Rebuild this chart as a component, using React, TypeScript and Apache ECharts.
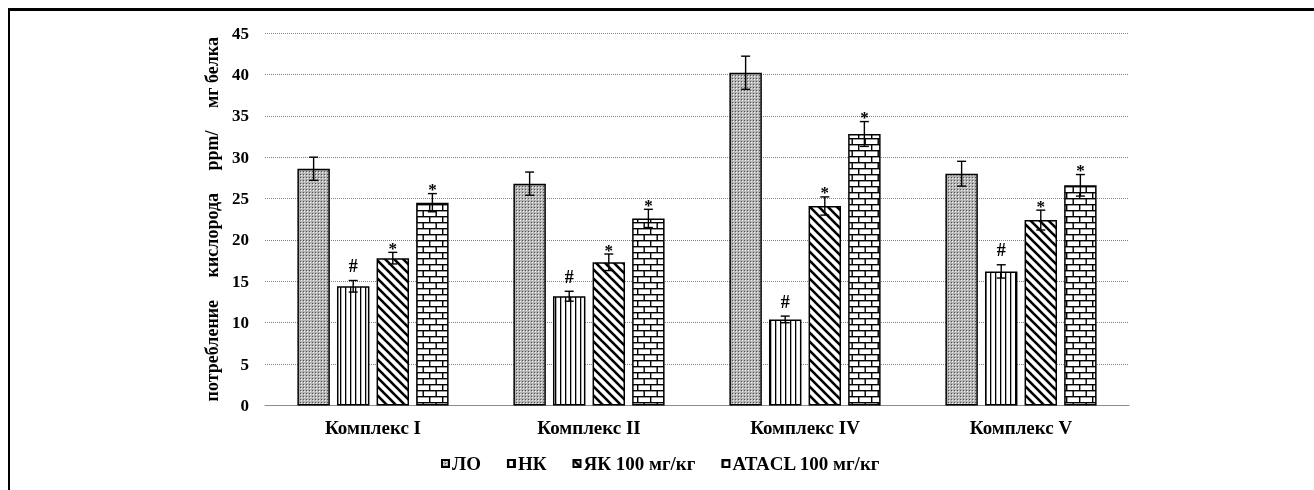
import React, { useEffect, useRef } from "react";
import * as echarts from "echarts";

const categories = ["Комплекс I", "Комплекс II", "Комплекс IV", "Комплекс V"];
const seriesNames = ["ЛО", "НК", "ЯК 100 мг/кг", "ATACL 100 мг/кг"];
const loValues = [28.6, 26.8, 40.2, 28.0];
const loErrors = [1.4, 1.4, 2.0, 1.5];
const nkValues = [14.4, 13.2, 10.4, 16.2];
const nkErrors = [0.7, 0.6, 0.4, 0.8];
const yakValues = [17.8, 17.3, 24.1, 22.4];
const yakErrors = [0.7, 1.0, 1.1, 1.2];
const ataclValues = [24.5, 22.6, 32.8, 26.6];
const ataclErrors = [1.1, 1.1, 1.5, 1.3];
const seriesMarks = ["", "#", "*", "*"];
const yTicks = [0, 5, 10, 15, 20, 25, 30, 35, 40, 45];

const FONT = "'Liberation Serif', 'Times New Roman', serif";
const CAT_GAP = 0.30;
const BAR_GAP = 0.22;

function makePattern(kind: string) {
  const c = document.createElement("canvas");
  let w = 4, h = 4;
  if (kind === "dots") { w = 3; h = 3; }
  if (kind === "vlines") { w = 5; h = 4; }
  if (kind === "diag") { w = 9; h = 9; }
  if (kind === "brick") { w = 13; h = 12; }
  c.width = w; c.height = h;
  const ctx = c.getContext("2d")!;
  ctx.fillStyle = "#ffffff";
  ctx.fillRect(0, 0, w, h);
  ctx.fillStyle = "#000000";
  ctx.strokeStyle = "#000000";
  if (kind === "dots") {
    ctx.fillStyle = "#b4b4b4";
    ctx.fillRect(0, 0, w, h);
    ctx.fillStyle = "#f4f4f4";
    ctx.fillRect(1, 1, 1, 1);
    ctx.fillStyle = "#505050";
    ctx.fillRect(0, 0, 1, 1);
  } else if (kind === "vlines") {
    ctx.fillRect(0, 0, 1.3, h);
  } else if (kind === "diag") {
    ctx.lineWidth = 2.6;
    for (let k = -1; k <= 1; k++) {
      ctx.beginPath();
      ctx.moveTo(k * w - 1, -1);
      ctx.lineTo(k * w + w + 1, h + 1);
      ctx.stroke();
    }
  } else if (kind === "brick") {
    ctx.fillRect(0, 0, w, 1.4);
    ctx.fillRect(0, 6, w, 1.4);
    ctx.fillRect(0, 0, 1.4, 6);
    ctx.fillRect(6.5, 6, 1.4, 6);
  }
  return { image: c as any, repeat: "repeat", imageWidth: w, imageHeight: h };
}

export default function App() {
  const ref = useRef<HTMLDivElement>(null);
  useEffect(() => {
    if (!ref.current) return;
    const chart = echarts.init(ref.current, null, { renderer: "svg" });
    const values = [loValues, nkValues, yakValues, ataclValues];
    const errors = [loErrors, nkErrors, yakErrors, ataclErrors];
    const patterns = ["dots", "vlines", "diag", "brick"].map(makePattern);
    const n = values.length;

    const barSeries = values.map((vals, i) => ({
      name: seriesNames[i],
      type: "bar",
      data: vals,
      barGap: BAR_GAP * 100 + "%",
      barCategoryGap: CAT_GAP * 100 + "%",
      itemStyle: { color: patterns[i], borderColor: "#000", borderWidth: 1.5 },
      z: 2,
    }));

    const errSeries = values.map((vals, i) => ({
      name: "err" + i,
      type: "custom",
      z: 5,
      clip: false,
      data: vals.map((v, j) => [j, v, errors[i][j]]),
      renderItem: (params: any, api: any) => {
        const cat = api.value(0);
        const v = api.value(1);
        const e = api.value(2);
        const band = api.size([1, 0])[0];
        const bw = (band * (1 - CAT_GAP)) / (n + (n - 1) * BAR_GAP);
        const total = bw * n + bw * BAR_GAP * (n - 1);
        const center = api.coord([cat, v]);
        const x = center[0] - total / 2 + i * bw * (1 + BAR_GAP) + bw / 2;
        const yTop = api.coord([cat, v + e])[1];
        const yBot = api.coord([cat, v - e])[1];
        const ls = { stroke: "#000", lineWidth: 1.4 };
        const children: any[] = [
          { type: "line", shape: { x1: x, y1: yTop, x2: x, y2: yBot }, style: ls },
          { type: "line", shape: { x1: x - 4.5, y1: yTop, x2: x + 4.5, y2: yTop }, style: ls },
          { type: "line", shape: { x1: x - 4.5, y1: yBot, x2: x + 4.5, y2: yBot }, style: ls },
        ];
        const mark = seriesMarks[i];
        if (mark) {
          children.push({
            type: "text",
            style: {
              text: mark,
              x: x,
              y: mark === "#" ? yTop - 14.5 : yTop - 4,
              align: "center",
              verticalAlign: "middle",
              font: `bold ${mark === "#" ? 18 : 17}px ${FONT}`,
              fill: "#000",
            },
          });
        }
        return { type: "group", children };
      },
    }));

    chart.setOption({
      animation: false,
      backgroundColor: "transparent",
      grid: { left: 265, right: 185, top: 33, bottom: 84.5, containLabel: false },
      legend: {
        data: seriesNames.map((name) => ({ name, icon: "rect" })),
        left: 441,
        top: 454,
        padding: 0,
        itemWidth: 7,
        itemHeight: 7,
        itemGap: 26,
        textStyle: { fontFamily: FONT, fontWeight: "bold", fontSize: 19, color: "#000", padding: [0, 0, 0, -2] },
      },
      xAxis: {
        type: "category",
        data: categories,
        axisLine: { lineStyle: { color: "#8c8c8c", width: 1 } },
        axisTick: { show: false },
        axisLabel: { fontFamily: FONT, fontWeight: "bold", fontSize: 19, color: "#000", margin: 12 },
      },
      yAxis: {
        type: "value",
        min: yTicks[0],
        max: yTicks[yTicks.length - 1],
        interval: yTicks[1] - yTicks[0],
        name: "потребление     кислорода     ppm/     мг белка",
        nameLocation: "middle",
        nameGap: 44,
        nameTextStyle: { fontFamily: FONT, fontWeight: "bold", fontSize: 18, color: "#000" },
        axisLine: { show: false },
        axisTick: { show: false },
        axisLabel: { fontFamily: FONT, fontWeight: "bold", fontSize: 17, color: "#000", margin: 16 },
        splitLine: { lineStyle: { color: "#808080", type: "dotted", width: 1 } },
      },
      series: [...barSeries, ...errSeries],
    } as any);
    return () => chart.dispose();
  }, []);

  return (
    <>
      <div
        style={{
          position: "fixed",
          left: 8,
          top: 8,
          width: 1306,
          height: 482,
          borderTop: "3px solid #000",
          borderLeft: "2px solid #000",
          boxSizing: "border-box",
        }}
      />
      <div ref={ref} style={{ position: "fixed", left: 0, top: 0, width: 1314, height: 490 }} />
    </>
  );
}
